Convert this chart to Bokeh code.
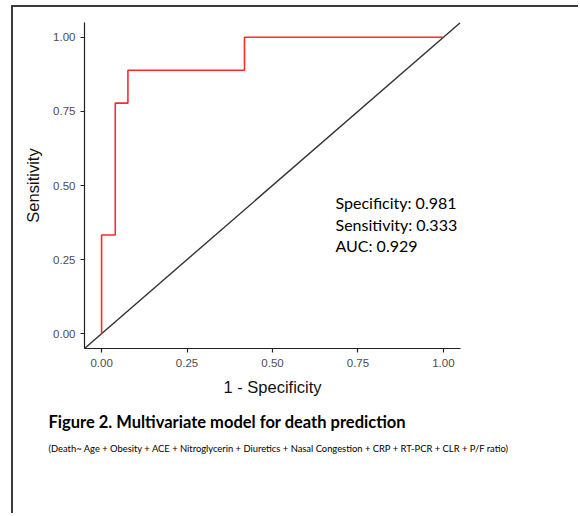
from bokeh.plotting import figure
from bokeh.models import Range1d, Label, FixedTicker, Title
from bokeh.embed import file_html
from bokeh.resources import INLINE

# ---- data ----
fpr = [0.0, 0.0, 0.04, 0.04, 0.077, 0.077, 0.418, 0.418, 1.0]
tpr = [0.0, 0.333, 0.333, 0.778, 0.778, 0.889, 0.889, 1.0, 1.0]
diag_x = [-0.05, 1.05]
diag_y = [-0.05, 1.05]
ticks = [0.0, 0.25, 0.5, 0.75, 1.0]
tick_labels = ["0.00", "0.25", "0.50", "0.75", "1.00"]
stats_lines = ["Specificity: 0.981", "Sensitivity: 0.333", "AUC: 0.929"]
fig_title = "Figure 2. Multivariate model for death prediction"
fig_subtitle = ("(Death~ Age + Obesity + ACE + Nitroglycerin + Diuretics + Nasal Congestion"
                " + CRP + RT-PCR + CLR + P/F ratio)")

# ---- layout (canvas pixels) ----
W, H = 567, 508
FL, FR, FT, FB = 71, 447, 15, 341   # frame edges in canvas px
X0, X1 = -0.05, 1.05
Y0, Y1 = -0.05, 1.05
OX, OY = 13, 7                      # canvas origin on page


def dx(page_x):
    return X0 + (page_x - OX - FL) / (FR - FL) * (X1 - X0)


def dy(page_y):
    return Y0 + (FB - (page_y - OY)) / (FB - FT) * (Y1 - Y0)


p = figure(width=W, height=H, output_backend="svg", toolbar_location=None,
           x_range=Range1d(X0, X1), y_range=Range1d(Y0, Y1),
           min_border_left=FL, min_border_right=W - FR,
           min_border_top=FT, min_border_bottom=H - FB)
p.styles = {"margin-left": "11px", "margin-top": "5px",
            "border-left": "2px solid #3a3a3a", "border-top": "2px solid #3a3a3a"}
p.outline_line_color = None
p.grid.visible = False
p.background_fill_color = "white"
p.border_fill_color = "white"

for ax in (p.xaxis[0], p.yaxis[0]):
    ax.ticker = FixedTicker(ticks=ticks)
    ax.major_label_overrides = {t: l for t, l in zip(ticks, tick_labels)}
    ax.minor_tick_line_color = None
    ax.major_tick_in = 0
    ax.major_tick_out = 4
    ax.axis_line_color = "#222222"
    ax.axis_line_width = 1.2
    ax.major_tick_line_color = "#222222"
    ax.major_tick_line_width = 1.2
    ax.major_label_text_font = "Liberation Sans"
    ax.major_label_text_font_size = "11.5px"
    ax.major_label_text_color = "#4d4d4d"
    ax.axis_label_text_font = "Liberation Sans"
    ax.axis_label_text_font_size = "16.5px"
    ax.axis_label_text_font_style = "normal"
    ax.axis_label_text_color = "#111111"

p.xaxis.axis_label = "1 - Specificity"
p.yaxis.axis_label = "Sensitivity"
p.xaxis.major_label_standoff = 6
p.yaxis.major_label_standoff = 5
p.xaxis.axis_label_standoff = 8
p.yaxis.axis_label_standoff = 8

p.line(diag_x, diag_y, line_color="#333333", line_width=1.4)
p.line(fpr, tpr, line_color="#ff2a2a", line_width=1.6)

for i, s in enumerate(stats_lines):
    p.add_layout(Label(x=dx(335), y=dy(202 + 21.5 * i), text=s,
                       text_font="Lato", text_font_size="16px",
                       text_color="#000000", text_baseline="middle", text_align="left"))

p.add_layout(Title(text=fig_title, align="left", offset=48 - OX - FL, standoff=23,
                   text_font="Lato", text_font_size="16.5px", text_font_style="bold",
                   text_color="#000000"), "below")
p.add_layout(Title(text=fig_subtitle, align="left", offset=48 - OX - FL, standoff=-5,
                   text_font="Lato", text_font_size="9.4px", text_font_style="normal",
                   text_color="#000000"), "below")

open("out.html", "w").write(file_html(p, INLINE))
